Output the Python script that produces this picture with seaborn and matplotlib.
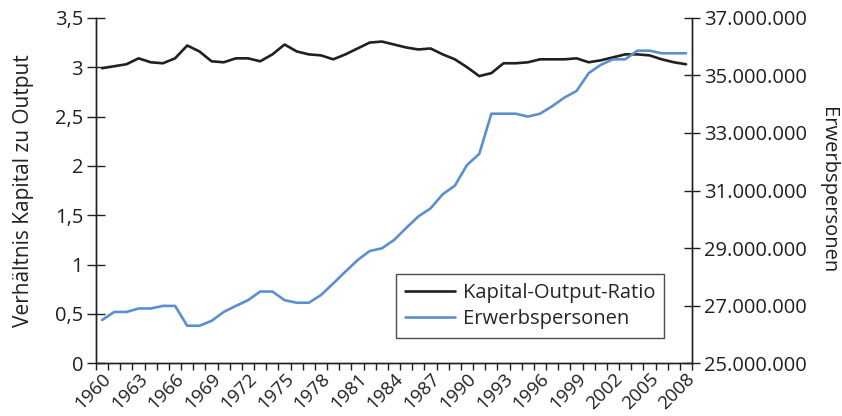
import matplotlib
matplotlib.use('Agg')
import matplotlib.pyplot as plt
import seaborn as sns
import pandas as pd
from matplotlib.ticker import FuncFormatter, MultipleLocator, FixedLocator

years = list(range(1960, 2009))

kapital_output = [
    2.99, 3.01, 3.03, 3.09, 3.05, 3.04, 3.09, 3.22, 3.16, 3.06,
    3.05, 3.09, 3.09, 3.06, 3.13, 3.23, 3.16, 3.13, 3.12, 3.08,
    3.13, 3.19, 3.25, 3.26, 3.23, 3.20, 3.18, 3.19, 3.13, 3.08,
    3.00, 2.91, 2.94, 3.04, 3.04, 3.05, 3.08, 3.08, 3.08, 3.09,
    3.05, 3.07, 3.10, 3.13, 3.13, 3.12, 3.08, 3.05, 3.03,
]

erwerbspersonen = [
    26.50, 26.78, 26.78, 26.90, 26.90, 26.99, 26.99, 26.30, 26.30, 26.47,
    26.78, 26.99, 27.19, 27.49, 27.49, 27.19, 27.10, 27.10, 27.37, 27.77,
    28.18, 28.58, 28.90, 28.99, 29.28, 29.70, 30.10, 30.38, 30.87, 31.17,
    31.89, 32.27, 33.67, 33.67, 33.67, 33.57, 33.67, 33.93, 34.23, 34.46,
    35.08, 35.37, 35.56, 35.56, 35.86, 35.86, 35.77, 35.77, 35.77,
]
erwerbspersonen = [v * 1e6 for v in erwerbspersonen]

right_ticks = [25e6, 27e6, 29e6, 31e6, 33e6, 35e6, 37e6]

df = pd.DataFrame({'Jahr': years, 'Kapital-Output-Ratio': kapital_output,
                   'Erwerbspersonen': erwerbspersonen})

sns.set_style('ticks')
plt.rcParams['font.family'] = ['Open Sans', 'DejaVu Sans']
plt.rcParams['axes.linewidth'] = 1.0

fig = plt.figure(figsize=(8.42, 4.16), dpi=100)
ax = fig.add_axes([0.114, 0.127, 0.708, 0.83])
ax2 = ax.twinx()

black = '#231f20'
blue = '#5b8fd0'

sns.lineplot(data=df, x='Jahr', y='Kapital-Output-Ratio', ax=ax, color=black,
             linewidth=1.9, label='Kapital-Output-Ratio', legend=False)
sns.lineplot(data=df, x='Jahr', y='Erwerbspersonen', ax=ax2, color=blue,
             linewidth=1.9, label='Erwerbspersonen', legend=False)

ax.set_xlim(1959.5, 2008.5)
ax.set_ylim(0, 3.5)
ax2.set_ylim(25e6, 37e6)

ax.yaxis.set_major_locator(MultipleLocator(0.5))
ax.yaxis.set_major_formatter(FuncFormatter(lambda v, p: f'{v:g}'.replace('.', ',')))
ax2.yaxis.set_major_locator(FixedLocator(right_ticks))
ax2.yaxis.set_major_formatter(FuncFormatter(lambda v, p: f'{int(round(v)):,}'.replace(',', '.')))

# year labels every third category, ticks between categories
label_years = years[::3]
ax.xaxis.set_major_locator(FixedLocator(label_years))
ax.set_xticklabels([str(y) for y in label_years], rotation=45, ha='right',
                   rotation_mode='anchor')
ax.xaxis.set_minor_locator(FixedLocator([y - 0.5 for y in years] + [2008.5]))
ax.tick_params(axis='x', which='major', length=0, labelsize=13.5, pad=5, colors=black)
ax.tick_params(axis='x', which='minor', length=5, width=1, direction='out', color=black)
ax.tick_params(axis='y', length=12.5, width=1, direction='inout', labelsize=14.5, pad=3, colors=black)
ax2.tick_params(axis='y', length=11.5, width=1, direction='inout', labelsize=14.5, pad=3, colors=black)

for a in (ax, ax2):
    a.spines['top'].set_visible(False)
    for s in ('left', 'right', 'bottom'):
        a.spines[s].set_color(black)

ax.set_xlabel('')
ax.set_ylabel('Verhältnis Kapital zu Output', fontsize=15, color=black, labelpad=15)
ax2.set_ylabel('Erwerbspersonen', fontsize=14.5, color=black, rotation=270, labelpad=22)

h1, l1 = ax.get_legend_handles_labels()
h2, l2 = ax2.get_legend_handles_labels()
leg = ax.legend(h1 + h2, l1 + l2, loc='lower right', bbox_to_anchor=(0.953, 0.072),
                fontsize=14.5, frameon=True, fancybox=False, handlelength=2.5,
                borderpad=0.45, labelspacing=0.3, handletextpad=0.35, borderaxespad=0)
leg.get_frame().set_edgecolor(black)
leg.get_frame().set_linewidth(1.0)
leg.set_zorder(5)

fig.savefig('out.png', dpi=100)
plt.close(fig)
